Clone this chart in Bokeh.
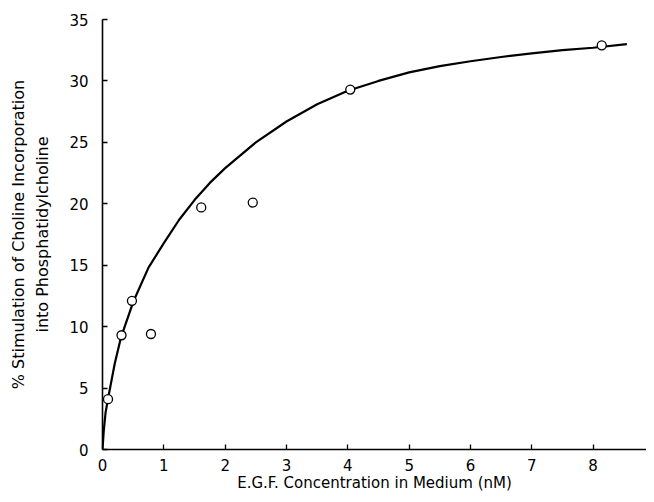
from bokeh.plotting import figure
from bokeh.models import LinearAxis, FixedTicker, Range1d
from bokeh.embed import file_html
from bokeh.resources import INLINE

# measured data points (E.G.F. nM, % stimulation)
egf_conc = [0.09, 0.31, 0.48, 0.79, 1.61, 2.45, 4.04, 8.14]
stimulation = [4.1, 9.3, 12.1, 9.4, 19.7, 20.1, 29.3, 32.9]

# fitted curve
curve_x = [0.0, 0.02, 0.05, 0.1, 0.2, 0.3, 0.5, 0.75, 1.0, 1.25, 1.5, 1.75,
           2.0, 2.5, 3.0, 3.5, 4.0, 4.5, 5.0, 5.5, 6.0, 6.5, 7.0, 7.5, 8.0, 8.55]
curve_y = [0.0, 1.5, 3.0, 4.4, 7.0, 9.1, 12.0, 14.8, 16.8, 18.7, 20.3, 21.7,
           22.9, 25.0, 26.7, 28.1, 29.2, 30.0, 30.7, 31.2, 31.6, 31.95, 32.25, 32.5, 32.7, 33.0]

x_ticks = [0, 1, 2, 3, 4, 5, 6, 7, 8, 9]
y_ticks = [0, 5, 10, 15, 20, 25, 30, 35]

x_title = "E.G.F. Concentration in Medium (nM)"
y_title_1 = "% Stimulation of Choline Incorporation"
y_title_2 = "into Phosphatidylcholine"

FONT = "DejaVu Sans"

p = figure(width=646, height=494, output_backend="svg", toolbar_location=None,
           x_range=Range1d(0, 8.87), y_range=Range1d(0, 35),
           min_border_left=102, min_border_right=0, min_border_top=19, min_border_bottom=45)
p.outline_line_color = None
p.xgrid.visible = False
p.ygrid.visible = False
p.background_fill_color = "white"
p.border_fill_color = "white"

p.line(curve_x, curve_y, line_color="black", line_width=2.2)
p.scatter(egf_conc, stimulation, marker="circle", size=9, fill_color="white",
          line_color="black", line_width=1.3)

for ax in (p.xaxis[0], p.yaxis[0]):
    ax.axis_line_color = "black"
    ax.major_tick_in = 5
    ax.major_tick_out = 0
    ax.major_tick_line_width = 1.3
    ax.minor_tick_in = 0
    ax.minor_tick_out = 0
    ax.major_label_text_font = FONT
    ax.major_label_text_font_size = "15px"
    ax.major_label_text_color = "black"
    ax.axis_label_text_font = FONT
    ax.axis_label_text_font_style = "normal"
    ax.axis_label_text_color = "black"

p.xaxis[0].axis_line_width = 1.3
p.xaxis[0].ticker = FixedTicker(ticks=x_ticks)
p.xaxis[0].major_label_standoff = 9
p.xaxis[0].axis_label = x_title
p.xaxis[0].axis_label_text_font_size = "15px"
p.xaxis[0].axis_label_standoff = 0

p.yaxis[0].axis_line_width = 1.6
p.yaxis[0].ticker = FixedTicker(ticks=y_ticks)
p.yaxis[0].major_label_standoff = 14
p.yaxis[0].axis_label = y_title_2
p.yaxis[0].axis_label_text_font_size = "16px"
p.yaxis[0].axis_label_standoff = 14

outer = LinearAxis(ticker=FixedTicker(ticks=[]), axis_line_color=None,
                   major_tick_in=0, major_tick_out=0, minor_tick_in=0, minor_tick_out=0,
                   major_label_standoff=0,
                   axis_label=y_title_1,
                   axis_label_standoff=3,
                   axis_label_text_font=FONT, axis_label_text_font_size="16px",
                   axis_label_text_font_style="normal", axis_label_text_color="black")
p.add_layout(outer, "left")

open("out.html", "w").write(file_html(p, INLINE))
